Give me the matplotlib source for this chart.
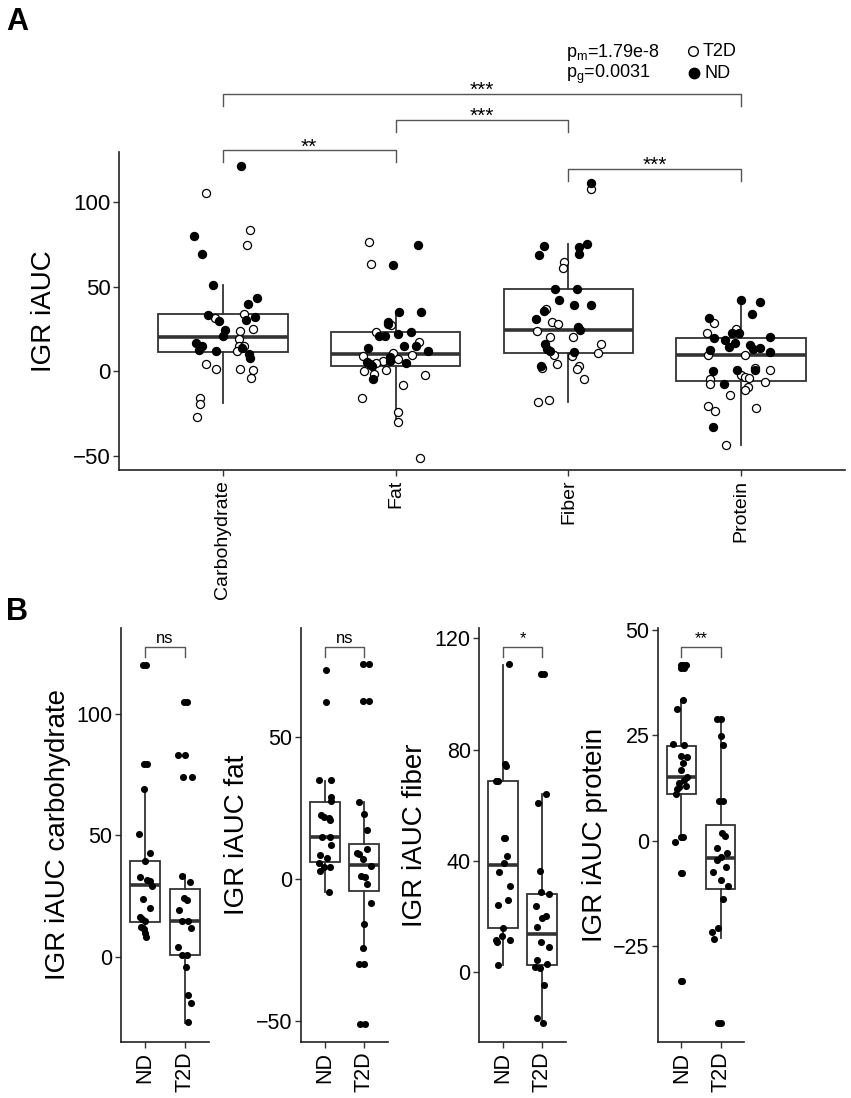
import matplotlib
matplotlib.use('Agg')
import matplotlib.pyplot as plt
import numpy as np

plt.rcParams['font.family'] = ['Liberation Sans', 'DejaVu Sans']
plt.rcParams['mathtext.default'] = 'regular'

W, H = 851, 1098

# ---------------- panel A data ----------------
nutrients = ['Carbohydrate', 'Fat', 'Fiber', 'Protein']

# box statistics
a_q1 = [11.4, 3.3, 10.8, -5.9]
a_med = [20.2, 10.0, 24.2, 9.4]
a_q3 = [33.8, 23.2, 48.6, 19.7]
a_wlo = [-18.9, -29.9, -18.1, -43.5]
a_whi = [50.8, 35.0, 75.1, 42.5]

# ND (filled) points per nutrient: values and jitter
a_nd_y = [
    [121.2, 79.7, 69.4, 51.1, 43.3, 39.9, 33.4, 29.5, 30.1, 32.1, 24.2, 20.7, 16.7, 14.7, 12.8, 13.6, 12.2, 10.4, 8.0],
    [74.6, 62.9, 35.0, 35.2, 29.3, 27.7, 21.0, 20.8, 21.8, 23.4, 14.9, 14.9, 13.6, 12.0, 8.6, 5.9, 5.7, 4.3, 3.1, 5.1, -4.4],
    [111.0, 75.3, 74.0, 73.4, 68.8, 69.0, 48.6, 48.6, 42.1, 39.3, 38.9, 35.8, 31.1, 26.3, 24.4, 16.1, 13.3, 12.0, 11.4, 3.0],
    [41.9, 40.7, 33.6, 31.3, 22.8, 22.4, 19.7, 18.3, 16.9, 20.1, 14.2, 15.5, 13.0, 13.6, 12.6, 11.4, 0.0, 0.9, 0.8, -7.7, -33.1],
]
a_nd_dx = [
    [0.108, -0.166, -0.12, -0.058, 0.199, 0.147, -0.085, -0.021, 0.137, 0.189, 0.015, 0.0, -0.152, -0.118, -0.139, 0.11, -0.041, 0.154, 0.16],
    [0.131, -0.013, 0.019, 0.149, -0.042, -0.046, -0.094, -0.064, 0.012, 0.089, 0.116, 0.048, -0.16, 0.187, -0.035, -0.035, -0.164, -0.149, -0.135, 0.06, -0.129],
    [0.129, 0.11, -0.139, 0.062, -0.172, 0.062, -0.079, 0.05, -0.054, 0.033, 0.131, -0.143, -0.185, 0.056, 0.066, -0.137, -0.126, -0.108, 0.033, -0.16],
    [0.0, 0.106, 0.06, -0.187, -0.052, -0.015, -0.156, -0.094, -0.035, 0.166, -0.073, 0.052, 0.066, 0.11, -0.179, 0.168, -0.166, -0.023, 0.077, -0.098, -0.166],
]
# T2D (open) points
a_t2d_y = [
    [105.3, 83.4, 74.4, 31.5, 33.8, 25.2, 23.8, 19.1, 15.1, 15.1, 12.0, 4.5, 1.4, 1.4, 0.8, -4.0, -15.8, -19.1, -27.0],
    [76.3, 63.5, 27.3, 23.4, 17.5, 11.0, 9.2, 9.8, 7.1, 5.9, 4.9, 0.6, 0.0, -1.4, -2.4, -8.3, -16.0, -24.2, -29.9, -51.0],
    [107.4, 64.7, 61.0, 36.6, 28.9, 27.9, 23.6, 20.1, 20.4, 16.3, 9.6, 9.0, 10.6, 2.1, 4.3, 3.1, 1.2, -4.5, -16.8, -18.1],
    [28.7, 22.8, 24.8, 9.6, 9.4, 2.1, 0.9, -2.0, -3.2, -4.0, -4.7, -7.3, -6.1, -9.1, -10.9, -14.0, -20.7, -23.3, -21.7, -43.5],
]
a_t2d_dx = [
    [-0.097, 0.156, 0.141, -0.042, 0.126, 0.178, 0.1, 0.094, 0.097, 0.124, 0.085, -0.098, -0.039, 0.102, 0.176, 0.162, -0.133, -0.131, -0.147],
    [-0.156, -0.141, -0.027, -0.114, 0.133, -0.013, -0.189, 0.097, 0.015, -0.071, -0.114, -0.056, -0.18, -0.124, 0.17, 0.041, -0.197, 0.013, 0.012, 0.143],
    [0.129, -0.027, -0.029, -0.131, -0.097, -0.06, -0.181, -0.108, 0.025, 0.187, -0.081, 0.021, 0.17, -0.154, -0.069, 0.06, 0.052, 0.091, -0.11, -0.176],
    [-0.16, -0.199, -0.033, -0.191, 0.021, 0.081, 0.166, 0.0, 0.023, 0.046, -0.179, -0.179, 0.139, 0.037, 0.023, -0.064, -0.193, -0.154, 0.085, -0.091],
]

a_pairs = [(0, 3), (1, 2), (0, 1), (2, 3)]
a_stars = ['***', '***', '**', '***']
a_pm = 'p$_m$=1.79e-8'
a_pg = 'p$_g$=0.0031'

# ---------------- panel B data ----------------
b_labels = ['IGR iAUC carbohydrate', 'IGR iAUC fat', 'IGR iAUC fiber', 'IGR iAUC protein']
b_groups = ['ND', 'T2D']
b_sig = ['ns', 'ns', '*', '**']
b_ticks = [[0, 50, 100], [-50, 0, 50], [0, 40, 80, 120], [-25, 0, 25, 50]]
b_ylim = [(-35.1, 135.5), (-57.3, 88.5), (-25.2, 123.7), (-47.8, 50.5)]

b_q1 = [[14.4, 0.7], [6.0, -4.0], [15.7, 2.5], [11.2, -11.5]]
b_med = [[29.6, 14.8], [14.8, 5.1], [38.6, 13.5], [15.2, -4.1]]
b_q3 = [[39.5, 28.1], [27.3, 12.3], [68.8, 28.2], [22.6, 3.8]]
b_wlo = [[7.8, -27.2], [-4.3, -24.7], [2.5, -18.5], [0.8, -23.2]]
b_whi = [[69.1, 33.9], [34.7, 27.3], [110.3, 64.1], [33.4, 28.8]]

b_nd_y = [
    [120.4, 120.4, 79.3, 79.3, 69.1, 50.6, 42.8, 39.5, 32.9, 31.7, 31.4, 29.2, 23.9, 20.2, 16.3, 15.4, 14.7, 12.3, 11.5, 9.9, 8.0],
    [73.8, 62.4, 34.8, 34.8, 28.9, 27.4, 22.7, 22.1, 21.5, 20.9, 14.8, 14.8, 12.0, 8.6, 7.4, 5.6, 4.5, 4.5, 2.9, -4.3],
    [110.6, 74.9, 73.9, 68.8, 68.8, 48.3, 48.1, 41.7, 39.0, 35.9, 30.9, 26.0, 24.2, 15.7, 13.1, 11.5, 10.9, 11.5, 2.5],
    [41.6, 41.8, 41.6, 40.9, 40.9, 33.4, 31.2, 23.0, 22.7, 20.0, 19.8, 18.4, 16.9, 15.2, 14.3, 13.6, 13.0, 12.8, 12.2, 11.2, 0.8, 0.8, -0.4, -7.7, -7.7, -33.4, -33.4],
]
b_nd_dx = [
    [-0.05, 0.02, -0.02, 0.06, -0.02, -0.14, 0.13, 0.01, -0.13, 0.04, 0.12, 0.18, -0.05, 0.12, -0.13, -0.07, 0.0, -0.09, -0.02, 0.01, 0.03],
    [0.02, 0.02, -0.14, 0.17, 0.16, 0.16, -0.09, -0.03, 0.1, 0.14, -0.08, 0.13, 0.17, -0.11, 0.06, -0.14, -0.03, 0.14, -0.11, 0.1],
    [0.17, 0.06, 0.08, -0.13, -0.18, 0.02, 0.06, 0.12, 0.03, -0.09, 0.18, 0.13, -0.12, 0.0, -0.02, -0.18, -0.14, 0.18, -0.13],
    [-0.02, 0.05, 0.11, -0.02, 0.07, 0.03, -0.12, -0.21, 0.07, 0.0, 0.14, 0.05, 0.0, 0.15, 0.07, -0.06, 0.11, -0.06, -0.12, -0.14, -0.02, 0.05, -0.17, -0.02, 0.02, -0.02, 0.02],
]
b_t2d_y = [
    [104.9, 104.9, 83.0, 83.0, 73.9, 73.9, 33.5, 31.0, 24.3, 23.6, 19.2, 14.7, 14.7, 11.7, 4.1, 0.7, 0.7, -4.0, -15.9, -19.2, -27.0],
    [75.7, 75.7, 62.9, 62.9, 27.1, 23.0, 17.2, 10.8, 9.4, 8.8, 7.1, 4.7, 1.2, 0.9, -1.8, -8.5, -15.9, -24.3, -29.8, -29.8, -50.8, -50.8],
    [107.2, 107.2, 64.1, 60.7, 36.3, 28.9, 27.9, 23.7, 20.1, 19.5, 16.2, 10.7, 9.0, 4.2, 2.8, 1.9, 1.3, -4.8, -16.5, -18.5],
    [28.8, 28.8, 24.9, 22.7, 9.5, 9.5, 1.9, 1.0, -1.8, -3.0, -3.8, -4.6, -6.2, -7.4, -9.3, -10.7, -13.9, -20.8, -21.7, -23.3, -43.4, -43.4],
]
b_t2d_dx = [
    [-0.03, 0.04, -0.17, 0.01, -0.04, 0.17, -0.07, 0.13, -0.02, 0.04, -0.14, -0.07, 0.08, 0.14, -0.17, -0.07, 0.04, 0.02, 0.07, 0.15, 0.07],
    [-0.04, 0.11, -0.03, 0.11, -0.13, 0.0, 0.06, 0.08, -0.19, -0.13, -0.03, 0.16, -0.08, 0.03, 0.08, 0.17, 0.0, -0.04, -0.14, 0.0, -0.12, 0.03],
    [-0.02, 0.04, 0.1, -0.11, -0.07, -0.03, 0.18, -0.17, 0.1, -0.01, -0.14, -0.02, 0.18, -0.13, 0.13, -0.18, -0.07, 0.05, -0.13, 0.03],
    [-0.08, 0.0, 0.0, 0.06, -0.04, 0.06, 0.04, 0.11, -0.1, 0.17, 0.0, -0.08, 0.13, -0.19, 0.01, 0.19, 0.07, -0.06, -0.21, -0.16, -0.06, 0.01],
]

BOXC = '#333333'


def px_axes(fig, l, t, r, b):
    return fig.add_axes([l / W, 1 - b / H, (r - l) / W, (b - t) / H])


def style(ax, lab_size):
    for s in ['top', 'right']:
        ax.spines[s].set_visible(False)
    for s in ['left', 'bottom']:
        ax.spines[s].set_linewidth(1.2)
        ax.spines[s].set_color('#222222')
    ax.tick_params(axis='both', length=4, width=1, color='#333333', labelsize=lab_size, pad=2)


def draw_boxes(ax, q1, med, q3, wlo, whi, width):
    stats = [dict(q1=q1[i], med=med[i], q3=q3[i], whislo=wlo[i], whishi=whi[i], fliers=[])
             for i in range(len(q1))]
    ax.bxp(stats, positions=np.arange(len(q1)), widths=width, showfliers=False, showcaps=False,
           patch_artist=True,
           boxprops=dict(facecolor='white', edgecolor=BOXC, linewidth=1.3),
           medianprops=dict(color=BOXC, linewidth=2.6),
           whiskerprops=dict(color=BOXC, linewidth=1.3))


def bracket(ax, x1, x2, ytop, leg, label, size, off):
    tr = ax.get_xaxis_transform()
    ax.plot([x1, x1, x2, x2], [ytop - leg, ytop, ytop, ytop - leg], color='#555555', lw=1.0,
            transform=tr, clip_on=False)
    ax.annotate(label, xy=((x1 + x2) / 2, ytop), xycoords=tr, xytext=(0, off),
                textcoords='offset points', ha='center', va='baseline', fontsize=size,
                annotation_clip=False)


fig = plt.figure(figsize=(W / 100, H / 100), dpi=100)

# ---------------- panel A ----------------
ax = px_axes(fig, 119, 152, 845, 470)
style(ax, 16)
draw_boxes(ax, a_q1, a_med, a_q3, a_wlo, a_whi, 0.75)
for i in range(len(nutrients)):
    ax.scatter(i + np.array(a_t2d_dx[i]), a_t2d_y[i], s=34, facecolors='white',
               edgecolors='black', linewidths=0.9, zorder=3)
    ax.scatter(i + np.array(a_nd_dx[i]), a_nd_y[i], s=34, facecolors='black',
               edgecolors='black', linewidths=0.9, zorder=3)
ax.set_xlim(-0.6, 3.6)
ax.set_ylim(-58.3, 129.5)
ax.set_yticks([-50, 0, 50, 100])
ax.set_xticks(range(len(nutrients)))
ax.set_xticklabels(nutrients, rotation=90, fontsize=14)
ax.tick_params(axis='x', pad=3)

a_br_y = [1.182, 1.100, 1.005, 0.946]
for (x1, x2), lab, yb in zip(a_pairs, a_stars, a_br_y):
    bracket(ax, x1, x2, yb, 0.037, lab, 15, -1.5)

# ---------------- panel B ----------------
b_left = [121, 301, 479, 658]
b_right = [209, 388, 566, 744]
for k in range(4):
    bx = px_axes(fig, b_left[k], 628, b_right[k], 1042)
    style(bx, 15.5)
    draw_boxes(bx, b_q1[k], b_med[k], b_q3[k], b_wlo[k], b_whi[k], 0.75)
    bx.scatter(0 + np.array(b_nd_dx[k]), b_nd_y[k], s=26, color='black', linewidths=0, zorder=3)
    bx.scatter(1 + np.array(b_t2d_dx[k]), b_t2d_y[k], s=26, color='black', linewidths=0, zorder=3)
    bx.set_xlim(-0.6, 1.6)
    bx.set_ylim(*b_ylim[k])
    bx.set_yticks(b_ticks[k])
    bx.set_xticks([0, 1])
    bx.set_xticklabels(b_groups, rotation=90, fontsize=15.5)
    bx.tick_params(axis='x', pad=3)
    bracket(bx, 0, 1, 0.955, 0.024, b_sig[k], 12, 2.5)

# ---------------- labels, legend, p values ----------------
ov = fig.add_axes([0, 0, 1, 1], zorder=-1)
ov.set_xlim(0, W)
ov.set_ylim(H, 0)
ov.axis('off')

ov.text(6, 30, 'A', fontsize=22, fontweight='bold', ha='left', va='baseline')
ov.text(6, 620, 'B', fontsize=22, fontweight='bold', ha='left', va='baseline')

ov.text(44, 311, 'IGR iAUC', rotation=90, fontsize=20, ha='center', va='center')
for k, xc in enumerate([58, 237, 415, 595]):
    ov.text(xc, 835, b_labels[k], rotation=90, fontsize=20, ha='center', va='center')

ov.text(566, 57, a_pm, fontsize=13, ha='left', va='baseline')
ov.text(566, 78, a_pg, fontsize=13, ha='left', va='baseline')
ov.plot([693], [51], 'o', ms=7, mfc='white', mec='black', mew=1.0)
ov.plot([694], [73], 'o', ms=7.5, mfc='black', mec='black')
ov.text(703, 56, 'T2D', fontsize=13, ha='left', va='baseline')
ov.text(704, 78, 'ND', fontsize=13, ha='left', va='baseline')

fig.savefig('out.png', dpi=100)
